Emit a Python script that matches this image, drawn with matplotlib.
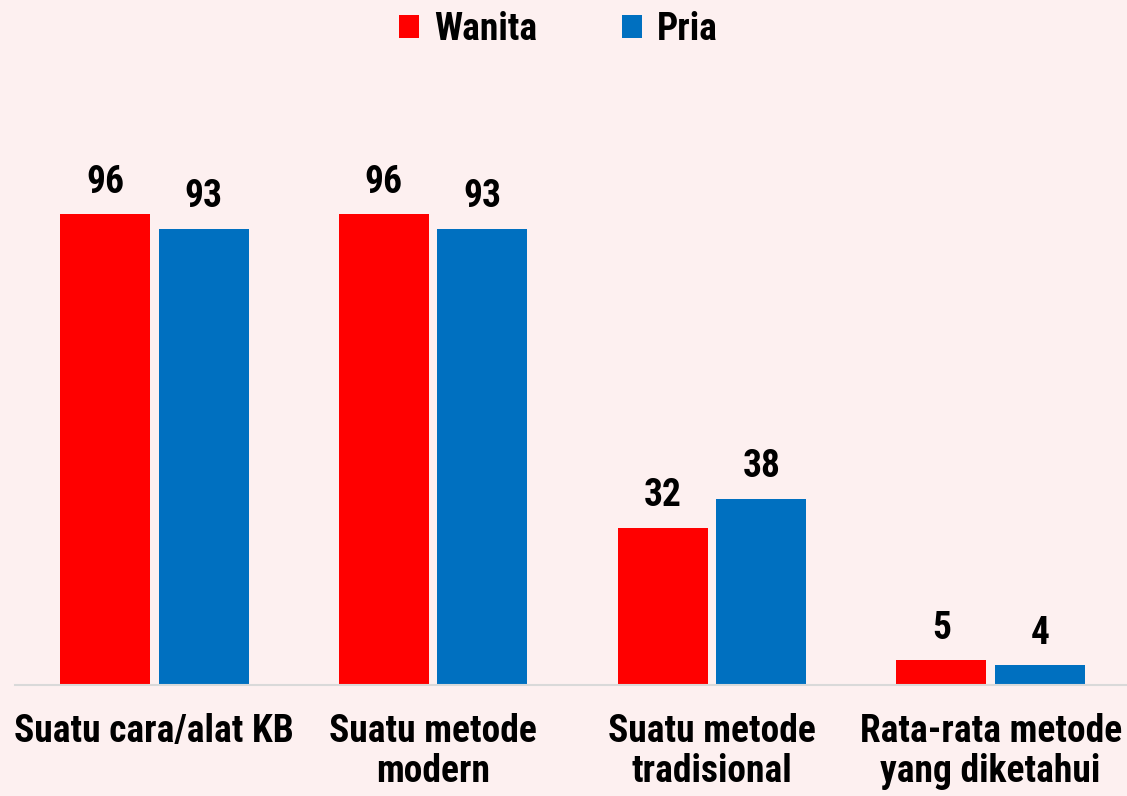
import matplotlib
matplotlib.use("Agg")
import matplotlib.pyplot as plt
import numpy as np

categories = ["Suatu cara/alat KB", "Suatu metode\nmodern", "Suatu metode\ntradisional",
              "Rata-rata metode\nyang diketahui"]
wanita = [96, 96, 32, 5]
pria = [93, 93, 38, 4]

plt.rcParams['font.family'] = ['Roboto Condensed', 'Liberation Sans', 'DejaVu Sans']

bg = "#FDF0F0"
red = "#FF0000"
blue = "#0070C0"

fig = plt.figure(figsize=(11.27, 7.96), dpi=100, facecolor=bg)
ax = fig.add_axes([15 / 1127, 111 / 796, 1115 / 1127, 625 / 796])
ax.set_facecolor(bg)

x = np.arange(len(categories))
w = 0.323
off = 0.177
b1 = ax.bar(x - off, wanita, w, color=red, label="Wanita")
b2 = ax.bar(x + off, pria, w, color=blue, label="Pria")

for bars in (b1, b2):
    for b in bars:
        ax.annotate(f"{b.get_height():.0f}", (b.get_x() + b.get_width() / 2, b.get_height()),
                    xytext=(0, 10), textcoords="offset points", ha="center", va="bottom",
                    fontsize=27, fontweight="bold")

ax.set_xlim(-0.5, 3.5)
ax.set_ylim(0, 127.5)
ax.set_xticks(x)
ax.set_xticklabels(categories, fontsize=27, fontweight="bold", linespacing=1.12)
ax.tick_params(axis="x", length=0, pad=20)
ax.set_yticks([])
for s in ("top", "right", "left"):
    ax.spines[s].set_visible(False)
ax.spines["bottom"].set_color("#D9D9D9")
ax.spines["bottom"].set_linewidth(1.5)

fig.legend(loc="upper center", bbox_to_anchor=(0.4955, 1.029), ncol=2, frameon=False,
           prop={"size": 27, "weight": "bold"}, handlelength=0.55, handleheight=0.55,
           handletextpad=0.4, columnspacing=2.25)

fig.savefig("out.png", dpi=100, facecolor=bg)
